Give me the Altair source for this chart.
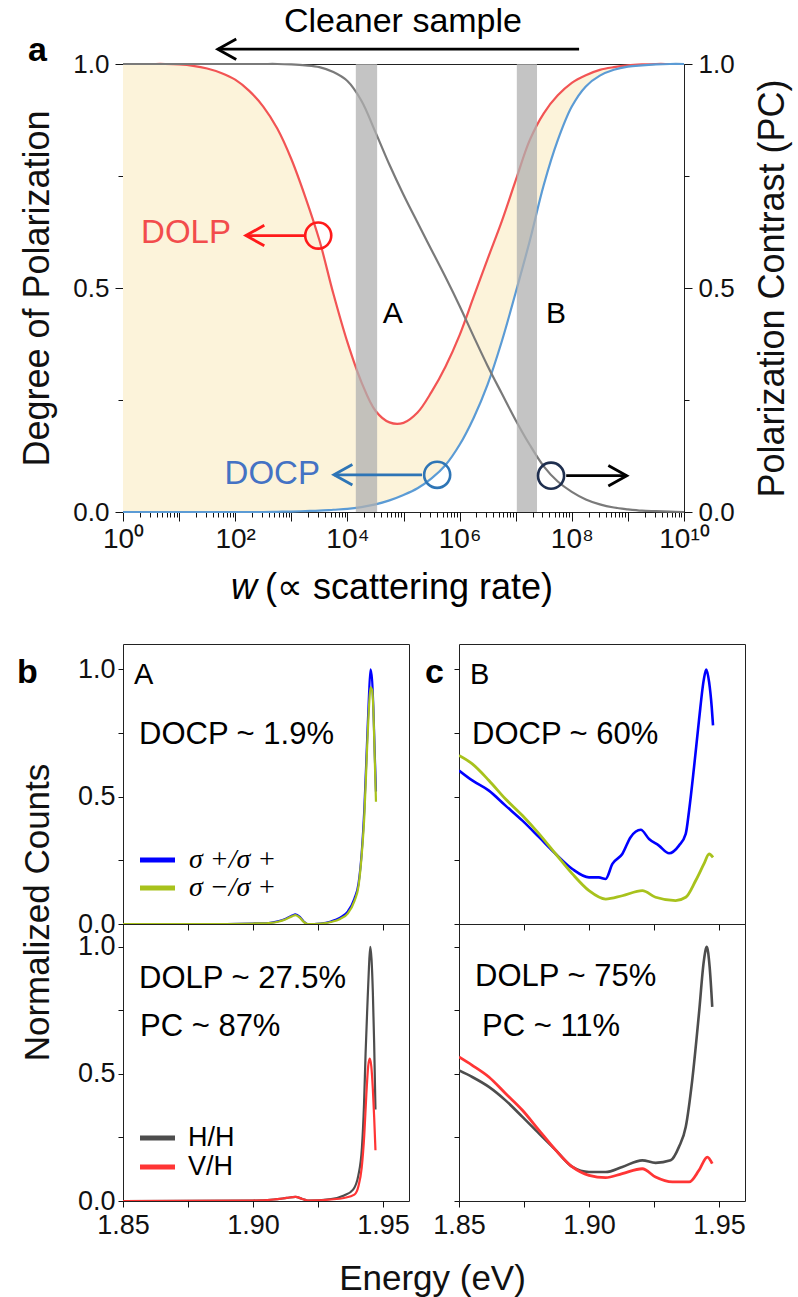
import altair as alt
import pandas as pd

FONT = "Liberation Sans"

# ------------------------------------------------------------------ panel a
# log10(w) sample positions and curve values
w_exp = [0.0, 0.25, 0.5, 0.75, 1.0, 1.25, 1.5, 1.75, 2.0, 2.25, 2.5, 2.75, 3.0, 3.25, 3.5, 3.75,
         4.0, 4.25, 4.5, 4.75, 5.0, 5.25, 5.5, 5.75, 6.0, 6.25, 6.5, 6.75, 7.0, 7.25, 7.5, 7.75,
         8.0, 8.25, 8.5, 8.75, 9.0, 9.25, 9.5, 9.75, 10.0]
dolp = [1.0, 1.0, 1.0, 1.0, 0.999, 0.996, 0.99, 0.98, 0.965, 0.94, 0.905, 0.856, 0.788, 0.703, 0.607, 0.487,
        0.379, 0.29, 0.226, 0.2, 0.199, 0.222, 0.268, 0.325, 0.395, 0.48, 0.565, 0.648, 0.74, 0.83, 0.89, 0.93,
        0.958, 0.975, 0.987, 0.993, 0.997, 0.999, 1.0, 1.0, 1.0]
docp = [0.0, 0.0, 0.0, 0.0, 0.0, 0.0, 0.0, 0.0, 0.0, 0.0, 0.0, 0.0005, 0.001, 0.002, 0.003, 0.005,
        0.007, 0.011, 0.017, 0.026, 0.038, 0.053, 0.075, 0.105, 0.15, 0.21, 0.285, 0.38, 0.49, 0.605, 0.73, 0.83,
        0.905, 0.95, 0.974, 0.987, 0.994, 0.997, 0.999, 1.0, 1.0]
pc = [1.0, 1.0, 1.0, 1.0, 1.0, 1.0, 1.0, 1.0, 1.0, 1.0, 1.0, 1.0, 0.999, 0.997, 0.993, 0.982,
      0.962, 0.918, 0.848, 0.775, 0.708, 0.646, 0.585, 0.524, 0.46, 0.392, 0.326, 0.265, 0.205, 0.15, 0.102, 0.068,
      0.045, 0.028, 0.017, 0.01, 0.006, 0.003, 0.002, 0.001, 0.0]

band_lo_exp = [4.15, 7.02]
band_hi_exp = [4.53, 7.38]
band_names = ["A", "B"]
band_label_exp = [4.63, 7.54]
band_label_y = [0.443, 0.443]

marker_exp = [3.48, 5.60, 7.63]
marker_y = [0.617, 0.083, 0.081]
marker_color = ["#ff1a1a", "#2e75b6", "#1f2f4f"]

arrow_from_exp = [8.13, 3.23, 5.33, 7.90]
arrow_to_exp = [1.69, 2.19, 3.76, 8.98]
arrow_y = [1.033, 0.617, 0.083, 0.081]
arrow_color = ["black", "#ff1a1a", "#2e75b6", "black"]
arrow_dir = ["left", "left", "left", "right"]

label_text = ["Cleaner sample", "DOLP", "DOCP"]
label_exp = [4.99, 1.925, 3.51]
label_y = [1.071, 0.622, 0.085]
label_color = ["black", "#f24c4c", "#4472c4"]
label_align = ["center", "right", "right"]

# ------------------------------------------------------------------ panels b, c (spectra)
bA_E = [1.850, 1.880, 1.900, 1.906, 1.910, 1.9124, 1.915, 1.9163, 1.918, 1.9195, 1.921, 1.926, 1.930,
        1.9335, 1.9365, 1.939, 1.9406, 1.9418, 1.9428, 1.9438, 1.9446, 1.9452, 1.9458, 1.9463, 1.9468, 1.9473]
bA_pp = [0.0, 0.0, 0.002, 0.004, 0.012, 0.02, 0.033, 0.038, 0.028, 0.01, 0.0, 0.002, 0.01,
         0.025, 0.05, 0.1, 0.16, 0.28, 0.45, 0.7, 0.9, 1.0, 0.96, 0.85, 0.68, 0.52]
bA_mp = [0.0, 0.0, 0.002, 0.004, 0.01, 0.018, 0.03, 0.035, 0.025, 0.008, 0.0, 0.002, 0.008,
         0.02, 0.042, 0.09, 0.15, 0.27, 0.42, 0.67, 0.85, 0.93, 0.92, 0.84, 0.66, 0.48]

bL_E_hh = [1.850, 1.900, 1.908, 1.913, 1.9163, 1.919, 1.921, 1.930, 1.935, 1.9385, 1.9405, 1.9419,
           1.9427, 1.9433, 1.9440, 1.9446, 1.9451, 1.9456, 1.9461, 1.9466, 1.9471]
bL_hh = [0.0, 0.002, 0.006, 0.012, 0.016, 0.008, 0.002, 0.008, 0.022, 0.045, 0.1, 0.21,
         0.38, 0.58, 0.77, 0.92, 1.0, 0.95, 0.82, 0.62, 0.36]
bL_E_vh = [1.850, 1.900, 1.908, 1.913, 1.9163, 1.919, 1.921, 1.930, 1.935, 1.939, 1.9406, 1.9418,
           1.9428, 1.9436, 1.9443, 1.9449, 1.9455, 1.9461, 1.9466, 1.9471]
bL_vh = [0.0, 0.002, 0.006, 0.012, 0.016, 0.008, 0.002, 0.006, 0.012, 0.025, 0.06, 0.13,
         0.26, 0.42, 0.53, 0.56, 0.53, 0.44, 0.33, 0.2]

cA_E_pp = [1.8500, 1.8551, 1.8615, 1.8679, 1.8744, 1.8808, 1.8872, 1.8936, 1.9000, 1.9038, 1.9064, 1.9090,
           1.9128, 1.9160, 1.9199, 1.9231, 1.9269, 1.9308, 1.9346, 1.9372, 1.9385, 1.9404, 1.9423, 1.9442,
           1.9451, 1.9462, 1.9472, 1.9477]
cA_pp = [0.603, 0.564, 0.524, 0.465, 0.406, 0.341, 0.275, 0.216, 0.183, 0.183, 0.177, 0.236,
         0.275, 0.341, 0.37, 0.334, 0.308, 0.278, 0.308, 0.354, 0.446, 0.616, 0.8, 0.963,
         1.0, 0.95, 0.852, 0.78]
cA_E_mp = [1.8500, 1.8551, 1.8615, 1.8679, 1.8744, 1.8808, 1.8872, 1.8936, 1.9000, 1.9064, 1.9128, 1.9205,
           1.9256, 1.9333, 1.9372, 1.9410, 1.9442, 1.9462, 1.9477]
cA_mp = [0.662, 0.629, 0.564, 0.491, 0.426, 0.354, 0.275, 0.197, 0.131, 0.098, 0.111, 0.131,
         0.105, 0.092, 0.105, 0.17, 0.236, 0.275, 0.262]

cL_E_hh = [1.8500, 1.8551, 1.8615, 1.8679, 1.8744, 1.8808, 1.8872, 1.8936, 1.9000, 1.9064, 1.9128, 1.9205,
           1.9256, 1.9314, 1.9346, 1.9372, 1.9397, 1.9423, 1.9442, 1.9453, 1.9464, 1.9474]
cL_hh = [0.514, 0.488, 0.449, 0.396, 0.331, 0.265, 0.2, 0.134, 0.114, 0.114, 0.134, 0.16,
         0.15, 0.16, 0.213, 0.291, 0.475, 0.738, 0.947, 1.0, 0.921, 0.764]
cL_E_vh = [1.8500, 1.8551, 1.8615, 1.8679, 1.8744, 1.8808, 1.8872, 1.8936, 1.9000, 1.9064, 1.9128, 1.9205,
           1.9256, 1.9321, 1.9385, 1.9423, 1.9455, 1.9474]
cL_vh = [0.567, 0.534, 0.488, 0.423, 0.357, 0.278, 0.2, 0.134, 0.101, 0.092, 0.108, 0.127,
         0.094, 0.075, 0.075, 0.121, 0.173, 0.147]

BLUE, YELLOW, DARK, RED = "#0000ff", "#a8c21c", "#4d4d4d", "#ff3535"

# ================================================================== panel a chart
A_W, A_H = 561, 448
xs = alt.Scale(type="log", domain=[1, 10 ** 10], nice=False)
ys = alt.Scale(domain=[0, 1], nice=False, zero=False)
INTERP = "catmull-rom"

x_tick_vals = [m * 10 ** k for k in range(10) for m in range(1, 10)] + [10 ** 10]
majors = [10 ** k for k in range(11)]
sup = {0: "\u2070", 2: "\u00b2", 4: "\u2074", 6: "\u2076", 8: "\u2078", 10: "\u00b9\u2070"}
x_lab_expr = "".join(f"datum.value == {10 ** k} ? '10{s}' : " for k, s in sup.items()) + "''"
axis_x_a = alt.Axis(values=x_tick_vals, labelExpr=x_lab_expr, title=None, labelFontSize=28,
                    labelPadding=4, labelOverlap=False, labelFlush=False,
                    tickSize={"condition": {"test": f"indexof({majors}, datum.value) >= 0", "value": 9},
                              "value": 5})
y_lab_expr = "datum.value == 0 ? '0.0' : datum.value == 0.5 ? '0.5' : datum.value == 1 ? '1.0' : ''"
y_ticksize = {"condition": {"test": "datum.value == 0 || datum.value == 0.5 || datum.value == 1",
                            "value": 8}, "value": 5}
axis_y_left = alt.Axis(values=[0, 0.25, 0.5, 0.75, 1], labelExpr=y_lab_expr, tickSize=y_ticksize,
                       labelFontSize=26, labelPadding=6, title="Degree of Polarization",
                       titleFontSize=36, titleX=-86, titleY=A_H / 2, titleAngle=270,
                       titleBaseline="middle", titleAlign="center")
axis_y_right = alt.Axis(orient="right", values=[0, 0.25, 0.5, 0.75, 1], labelExpr=y_lab_expr,
                        tickSize=y_ticksize, labelFontSize=26, labelPadding=6,
                        title="Polarization Contrast (PC)", titleFontSize=36, titleX=88,
                        titleY=A_H / 2, titleAngle=270, titleBaseline="middle", titleAlign="center")

df_a = pd.DataFrame({"w": [10 ** e for e in w_exp], "dolp": dolp, "docp": docp, "pc": pc})
X_a = alt.X("w:Q", scale=xs, axis=axis_x_a)

fill = alt.Chart(df_a).mark_area(color="#fcf3da", interpolate=INTERP).encode(
    x=X_a, y=alt.Y("docp:Q", scale=ys, axis=axis_y_left), y2="dolp:Q")
red_line = alt.Chart(df_a).mark_line(color="#f25454", strokeWidth=2.2, interpolate=INTERP).encode(
    x=X_a, y=alt.Y("dolp:Q", scale=ys, axis=None))
blue_line = alt.Chart(df_a).mark_line(color="#5b9bd5", strokeWidth=2.2, interpolate=INTERP).encode(
    x=X_a, y=alt.Y("docp:Q", scale=ys, axis=None))
gray_line = alt.Chart(df_a).mark_line(color="#7a7a7a", strokeWidth=2.2, interpolate=INTERP).encode(
    x=X_a, y=alt.Y("pc:Q", scale=ys, axis=axis_y_right))

df_band = pd.DataFrame({"w": [10 ** e for e in band_lo_exp], "w2": [10 ** e for e in band_hi_exp],
                        "name": band_names})
bands = alt.Chart(df_band).mark_rect(color="#b0b0b0", opacity=0.75).encode(
    x=X_a, x2="w2:Q", y=alt.value(0), y2=alt.value(A_H))
df_blab = pd.DataFrame({"w": [10 ** e for e in band_label_exp], "y": band_label_y, "t": band_names})
band_text = alt.Chart(df_blab).mark_text(fontSize=30, align="left", baseline="middle", color="black").encode(
    x=X_a, y=alt.Y("y:Q", scale=ys, axis=None), text="t:N")

df_arrow = pd.DataFrame({"w": [10 ** e for e in arrow_from_exp], "w2": [10 ** e for e in arrow_to_exp],
                         "y": arrow_y, "c": arrow_color, "dir": arrow_dir})
shafts = alt.Chart(df_arrow).mark_rule(strokeWidth=2.8).encode(
    x=X_a, x2="w2:Q", y=alt.Y("y:Q", scale=ys, axis=None), color=alt.Color("c:N", scale=None))
df_head = pd.DataFrame({"w": [10 ** e for e in arrow_to_exp], "y": arrow_y, "c": arrow_color,
                        "dir": arrow_dir})
heads_l = alt.Chart(df_head).transform_filter("datum.dir == 'left'").mark_point(
    shape="M1.8,-1L0,0L1.8,1", size=420, strokeWidth=2.8, filled=False, opacity=1).encode(
    x=X_a, y=alt.Y("y:Q", scale=ys, axis=None), color=alt.Color("c:N", scale=None))
heads_r = alt.Chart(df_head).transform_filter("datum.dir == 'right'").mark_point(
    shape="M-1.8,-1L0,0L-1.8,1", size=420, strokeWidth=2.8, filled=False, opacity=1).encode(
    x=X_a, y=alt.Y("y:Q", scale=ys, axis=None), color=alt.Color("c:N", scale=None))

df_mark = pd.DataFrame({"w": [10 ** e for e in marker_exp], "y": marker_y, "c": marker_color})
circles = alt.Chart(df_mark).mark_point(shape="circle", size=680, strokeWidth=2.6, filled=False,
                                        opacity=1).encode(
    x=X_a, y=alt.Y("y:Q", scale=ys, axis=None), color=alt.Color("c:N", scale=None))

df_lab = pd.DataFrame({"w": [10 ** e for e in label_exp], "y": label_y, "t": label_text,
                       "c": label_color, "al": label_align})
lab_center = alt.Chart(df_lab).transform_filter("datum.al == 'center'").mark_text(
    fontSize=34, align="center", baseline="alphabetic").encode(
    x=X_a, y=alt.Y("y:Q", scale=ys, axis=None), text="t:N", color=alt.Color("c:N", scale=None))
lab_right = alt.Chart(df_lab).transform_filter("datum.al == 'right'").mark_text(
    fontSize=33, align="right", baseline="middle").encode(
    x=X_a, y=alt.Y("y:Q", scale=ys, axis=None), text="t:N", color=alt.Color("c:N", scale=None))


def px_text(txt, x, y, size, align="left", baseline="alphabetic", weight="normal", style="normal",
            font=FONT, color="black", angle=0):
    return alt.Chart(pd.DataFrame({"t": [txt]})).mark_text(
        fontSize=size, align=align, baseline=baseline, fontWeight=weight, fontStyle=style,
        font=font, color=color, angle=angle).encode(text="t:N", x=alt.value(x), y=alt.value(y))


a_letter = px_text("a", -95, -3, 34, weight="bold")
w_italic = px_text("w", 134, 535, 36, align="right", style="italic")
x_title = px_text("(\u221d scattering rate)", 142, 535, 36)

top = alt.layer(fill, red_line, blue_line, gray_line, bands, band_text, shafts, heads_l, heads_r,
                circles, lab_center, lab_right, a_letter, w_italic, x_title).resolve_scale(
    y="independent").properties(width=A_W, height=A_H)

# ================================================================== panels b, c
P_W = 286
H_TOP, H_BOT = 280, 277
xs_b = alt.Scale(domain=[1.85, 1.96], nice=False, zero=False)
x_vals_b = [1.85, 1.875, 1.9, 1.925, 1.95]
x_lab_b = "indexof([1.875, 1.925], datum.value) >= 0 ? '' : format(datum.value, '.2f')"
y_vals_b = [0, 0.25, 0.5, 0.75, 1.0]
y_lab_b = "datum.value == 0 ? '0.0' : datum.value == 0.5 ? '0.5' : datum.value == 1 ? '1.0' : ''"


def x_axis_b(labels, title=None):
    kw = dict(values=x_vals_b, tickSize=6, labels=labels, labelExpr=x_lab_b, labelFontSize=27,
              labelPadding=5, labelFlush=False, labelOverlap=False)
    if title:
        kw.update(title=title, titleFontSize=35, titleX=309, titleY=88, titleBaseline="alphabetic",
                  titleAlign="center")
    else:
        kw["title"] = None
    return alt.Axis(**kw)


def y_axis_b(labels, title=None):
    kw = dict(values=y_vals_b, tickSize=5, labels=labels, labelExpr=y_lab_b, labelFontSize=27,
              labelPadding=3, labelOverlap=False, labelFlush=False)
    if title:
        kw.update(title=title, titleFontSize=35, titleX=-86, titleY=-12, titleAngle=270,
                  titleBaseline="middle", titleAlign="center")
    else:
        kw["title"] = None
    return alt.Axis(**kw)


def spec_line(E, vals, color, xaxis, yaxis, ydom, width=2.2):
    df = pd.DataFrame({"E": E, "v": vals})
    return alt.Chart(df).mark_line(color=color, strokeWidth=width, clip=True,
                                   interpolate="monotone").encode(
        x=alt.X("E:Q", scale=xs_b, axis=xaxis),
        y=alt.Y("v:Q", scale=alt.Scale(domain=ydom, nice=False, zero=False), axis=yaxis))


def legend_layers(entries, y0, dy, italic):
    out = []
    for i, (name, col) in enumerate(entries):
        yy = y0 + i * dy
        out.append(alt.Chart(pd.DataFrame({"k": [name]})).mark_rule(color=col, strokeWidth=5).encode(
            x=alt.value(17), x2=alt.value(52), y=alt.value(yy)))
        if italic:
            out.append(px_text(name, 66, yy, 28, baseline="middle", style="italic",
                               font="Liberation Serif"))
        else:
            out.append(px_text(name, 65, yy, 27, baseline="middle"))
    return out


ydom_t, ydom_b = [0, 1.1], [0, 1.09]

b_top = alt.layer(
    spec_line(bA_E, bA_pp, BLUE, x_axis_b(False), y_axis_b(True), ydom_t),
    spec_line(bA_E, bA_mp, YELLOW, x_axis_b(False), y_axis_b(True), ydom_t),
    *legend_layers([("\u03c3 +/\u03c3 +", BLUE), ("\u03c3 \u2212/\u03c3 +", YELLOW)], 216, 28, True),
    px_text("A", 11, 40, 29),
    px_text("DOCP ~ 1.9%", 16, 100, 31),
    px_text("b", -106, 39, 34, weight="bold"),
).properties(width=P_W, height=H_TOP)

c_top = alt.layer(
    spec_line(cA_E_pp, cA_pp, BLUE, x_axis_b(False), y_axis_b(False), ydom_t, 2.6),
    spec_line(cA_E_mp, cA_mp, YELLOW, x_axis_b(False), y_axis_b(False), ydom_t, 2.8),
    px_text("B", 11, 40, 29),
    px_text("DOCP ~ 60%", 13, 100, 31),
    px_text("c", -34, 39, 34, weight="bold"),
).properties(width=P_W, height=H_TOP)

b_bot = alt.layer(
    spec_line(bL_E_hh, bL_hh, DARK, x_axis_b(True, "Energy (eV)"), y_axis_b(True, "Normalized Counts"), ydom_b),
    spec_line(bL_E_vh, bL_vh, RED, x_axis_b(True, "Energy (eV)"), y_axis_b(True, "Normalized Counts"), ydom_b),
    *legend_layers([("H/H", DARK), ("V/H", RED)], 214, 29, False),
    px_text("DOLP ~ 27.5%", 16, 64, 31),
    px_text("PC ~ 87%", 17, 112, 31),
).properties(width=P_W, height=H_BOT)

c_bot = alt.layer(
    spec_line(cL_E_hh, cL_hh, DARK, x_axis_b(True), y_axis_b(False), ydom_b, 2.6),
    spec_line(cL_E_vh, cL_vh, RED, x_axis_b(True), y_axis_b(False), ydom_b, 2.8),
    px_text("DOLP ~ 75%", 16, 62, 31),
    px_text("PC ~ 11%", 23, 112, 31),
).properties(width=P_W, height=H_BOT)

grid = alt.concat(b_top, c_top, b_bot, c_bot, columns=2, spacing={"row": 0, "column": 50},
                  bounds="flush")

chart = alt.vconcat(top, grid, spacing=36).properties(
    padding={"left": 16, "top": 4, "right": 5, "bottom": 5}
).configure(font=FONT).configure_view(stroke="#222", strokeWidth=1).configure_axis(
    grid=False, domain=False, tickColor="#111", labelColor="#111", titleColor="#111",
    titleFontWeight="normal", labelFont=FONT, titleFont=FONT)

chart.save("out.html", embed_options={"renderer": "svg", "actions": False})
